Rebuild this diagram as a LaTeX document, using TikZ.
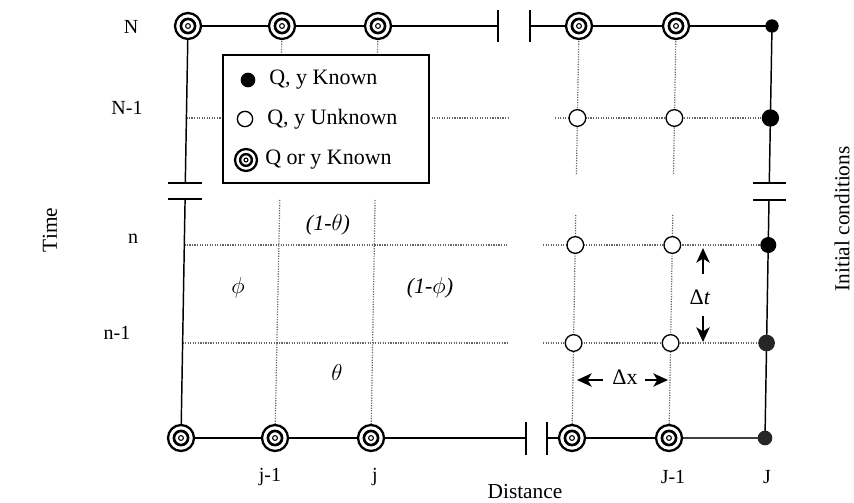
\documentclass[tikz,border=0pt]{standalone}
\usepackage{fontspec}
\setmainfont{Liberation Serif}
\usetikzlibrary{arrows.meta}
\begin{document}
\begin{tikzpicture}[x=0.75pt,y=-0.75pt,
  txt/.style={font=\fontsize{15}{18}\selectfont,inner sep=0pt},
  legtxt/.style={font=\fontsize{16.5}{19}\selectfont,inner sep=0pt},
  bigtxt/.style={font=\fontsize{16}{19}\selectfont,inner sep=0pt},
  wtxt/.style={font=\fontsize{16.5}{19}\selectfont,inner sep=0pt},
  bc/.style={circle,draw,line width=1.7pt,minimum size=19.5pt,inner sep=0pt,fill=white,
    path picture={\draw[line width=2pt] (path picture bounding box.center) circle (5.3pt);
                  \draw[line width=0.8pt] (path picture bounding box.center) circle (1.8pt);}},
  bcs/.style={bc,minimum size=16.5pt,
    path picture={\draw[line width=1.8pt] (path picture bounding box.center) circle (4.4pt);
                  \draw[line width=0.8pt] (path picture bounding box.center) circle (1.5pt);}},
  opn/.style={circle,draw,line width=1pt,minimum size=12.5pt,inner sep=0pt,fill=white},
  kn/.style={circle,fill=black,minimum size=11pt,inner sep=0pt},
  gridl/.style={black!60,densely dotted,line width=0.9pt},
  bnd/.style={line width=1.1pt},
  arr/.style={line width=1.2pt,-{Stealth[length=11pt,width=10pt,inset=3pt]}}]
\useasboundingbox[fill=white] (0,0) rectangle (854,503);

% grid coordinates (slightly sheared like the scan)
\coordinate (A2) at (186.4,118); \coordinate (A3) at (184.3,245); \coordinate (A4) at (182.6,343);
\coordinate (F2c) at (770.4,118);
\coordinate (Lb1) at (185.3,183); \coordinate (Lb2) at (185.1,199);
\coordinate (Rb1) at (769.3,183); \coordinate (Rb2) at (769.0,200);

% dotted grid lines
\draw[gridl] (A2) -- (223,118) (429,118) -- (510,118) (555,118) -- (F2c);
\draw[gridl] (A3) -- (508,245) (543,245) -- (768.3,245);
\draw[gridl] (A4) -- (508,343) (543,343) -- (766.6,343);
\draw[gridl] (282,26) -- (281.5,55) (279.8,200) -- (275,438);
\draw[gridl] (378,26) -- (377.5,55) (375.1,200) -- (371,438);
\draw[gridl] (579,26) -- (576.4,175) (575.7,215) -- (572,438);
\draw[gridl] (676,26) -- (673.5,175) (672.8,215) -- (669,438);

% break ticks
\coordinate (tt1a) at (498,10); \coordinate (tt1b) at (498,42);
\coordinate (tt2a) at (530,10); \coordinate (tt2b) at (530,42);
\coordinate (bt1a) at (526,422); \coordinate (bt1b) at (526,455);
\coordinate (bt2a) at (547,422); \coordinate (bt2b) at (547,455);
\draw[bnd] (tt1a) -- (tt1b) (tt2a) -- (tt2b) (bt1a) -- (bt1b) (bt2a) -- (bt2b);
\draw[bnd] (168,183) -- (202,183) (168,199) -- (202,199);
\draw[bnd] (753,183) -- (786,183) (753,200) -- (786,200);

% boundaries (under the markers)
\coordinate (cAN) at (188,26); \coordinate (cAB) at (181,438);
\coordinate (cFN) at (772,26); \coordinate (cFB) at (765,438);
\draw[bnd] (cAN) -- (498,26) (530,26) -- (cFN);
\draw[bnd] (cAB) -- (526,438) (547,438) -- (669,438);
\draw[bnd,black!75] (669,438) -- (cFB);
\draw[bnd] (cAN) -- (Lb1) (Lb2) -- (cAB);
\draw[bnd] (cFN) -- (Rb1) (Rb2) -- (cFB);

% nodes
\node[bc] (AN) at (cAN) {};
\node[bc] (BN) at (282,26) {};
\node[bc] (CN) at (378,26) {};
\node[bc] (DN) at (579,26) {};
\node[bc] (EN) at (676,26) {};
\node[bc] (AB) at (cAB) {};
\node[bc] (BB) at (275,438) {};
\node[bc] (CB) at (371,438) {};
\node[bc] (DB) at (572,438) {};
\node[bc] (EB) at (669,438) {};
\node[opn] (D2) at (577.4,118) {};
\node[opn] (E2) at (674.4,118) {};
\node[opn] (D3) at (575.3,245) {};
\node[opn] (E3) at (672.3,245) {};
\node[opn] (D4) at (573.6,343) {};
\node[opn] (E4) at (670.6,343) {};
\node[kn,minimum size=10pt] (FN) at (cFN) {};
\node[kn,minimum size=13pt] (F2) at (770.4,118) {};
\node[kn,minimum size=12pt] (F3) at (768.3,245) {};
\node[kn,fill=black!85,minimum size=12.5pt] (F4) at (766.6,343) {};
\node[kn,fill=black!85,minimum size=11pt] (FB) at (cFB) {};

% legend
\node[draw,line width=1pt,fill=white,minimum width=154.5pt,minimum height=96pt,inner sep=0pt] (leg) at (326,119) {};
\node[kn,minimum size=11pt] (lk) at (248,80) {};
\node[opn,minimum size=11.5pt] (lo) at (245,119) {};
\node[bcs] (lb) at (246,160) {};
\node[legtxt,anchor=west] (lkt) at (269,80) {Q, y Known};
\node[legtxt,anchor=west] (lot) at (267,119) {Q, y Unknown};
\node[legtxt,anchor=west] (lbt) at (265,160) {Q or y Known};

% axis labels
\node[txt] (lN) at (131,27) {N};
\node[txt] (lN1) at (127,108) {N-1};
\node[txt] (ln) at (133,239) {n};
\node[txt] (ln1) at (117,333) {n-1};
\node[bigtxt,rotate=90] (time) at (50,230) {Time};
\node[bigtxt,rotate=90] (ic) at (842,219) {Initial conditions};
\node[txt] (lj1) at (270,477) {j-1};
\node[txt] (lj) at (375,477) {j};
\node[txt] (lJ1) at (673,477) {J-1};
\node[txt] (lJ) at (767,477) {J};
\node[bigtxt] (dist) at (525,492) {Distance};

% weights
\node[wtxt] (w1) at (328,225) {\textit{(1-}$\theta$\textit{)}};
\node[wtxt] (w2) at (238,288) {$\phi$};
\node[wtxt] (w3) at (430,288) {\textit{(1-}$\phi$\textit{)}};
\node[wtxt] (w4) at (337,372) {$\theta$};

% increments
\node[wtxt] (dt) at (700,297) {Δ\textit{t}};
\node[wtxt] (dx) at (625,377) {Δx};
\coordinate (dtu0) at (703,274); \coordinate (dtu1) at (703,248);
\coordinate (dtd0) at (703,316); \coordinate (dtd1) at (703,342);
\coordinate (dxl0) at (603,380); \coordinate (dxl1) at (577,380);
\coordinate (dxr0) at (645,380); \coordinate (dxr1) at (668,380);
\draw[arr] (dtu0) -- (dtu1);
\draw[arr] (dtd0) -- (dtd1);
\draw[arr] (dxl0) -- (dxl1);
\draw[arr] (dxr0) -- (dxr1);
\end{tikzpicture}
\end{document}
